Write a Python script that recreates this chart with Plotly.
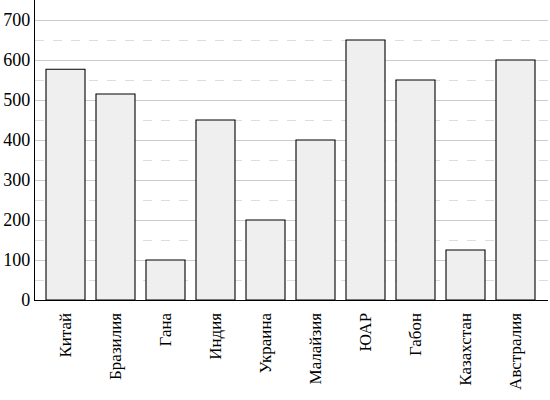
import plotly.graph_objects as go

countries = ["Китай", "Бразилия", "Гана", "Индия", "Украина",
             "Малайзия", "ЮАР", "Габон", "Казахстан", "Австралия"]
values = [577, 515, 100, 450, 200, 400, 650, 550, 125, 600]

y_ticks = [0, 100, 200, 300, 400, 500, 600, 700]

_FONT = dict(family="Liberation Serif", size=17, color="#000")

fig = go.Figure()
fig.add_trace(go.Bar(
    x=countries, y=values,
    width=0.78,
    marker=dict(color="#efefef", line=dict(color="#000", width=1.1)),
    showlegend=False,
))

fig.update_layout(
    width=550, height=400,
    paper_bgcolor="white", plot_bgcolor="white",
    font=_FONT,
    margin=dict(l=35, r=2, t=0, b=100),
    xaxis=dict(
        range=[-0.61, 9.65],
        tickangle=-90,
        showline=True, linecolor="#000", linewidth=1.2,
        ticks="", showgrid=False, automargin=False,
        ticklabelstandoff=5,
        tickfont=_FONT,
    ),
    yaxis=dict(
        range=[0, 750],
        tickvals=y_ticks,
        showline=True, linecolor="#000", linewidth=1.2,
        ticks="", automargin=False,
        showgrid=True, gridcolor="#cccccc", gridwidth=1,
        zeroline=False,
        minor=dict(dtick=50, showgrid=True, gridcolor="#dddddd",
                   griddash="dash", gridwidth=1),
        tickfont=dict(_FONT, size=18),
    ),
)

# drop the page's default body margin so the figure sits at (0, 0)
fig.write_html("out.html", config={"displayModeBar": False},
               post_script="document.body.style.margin='0';")
